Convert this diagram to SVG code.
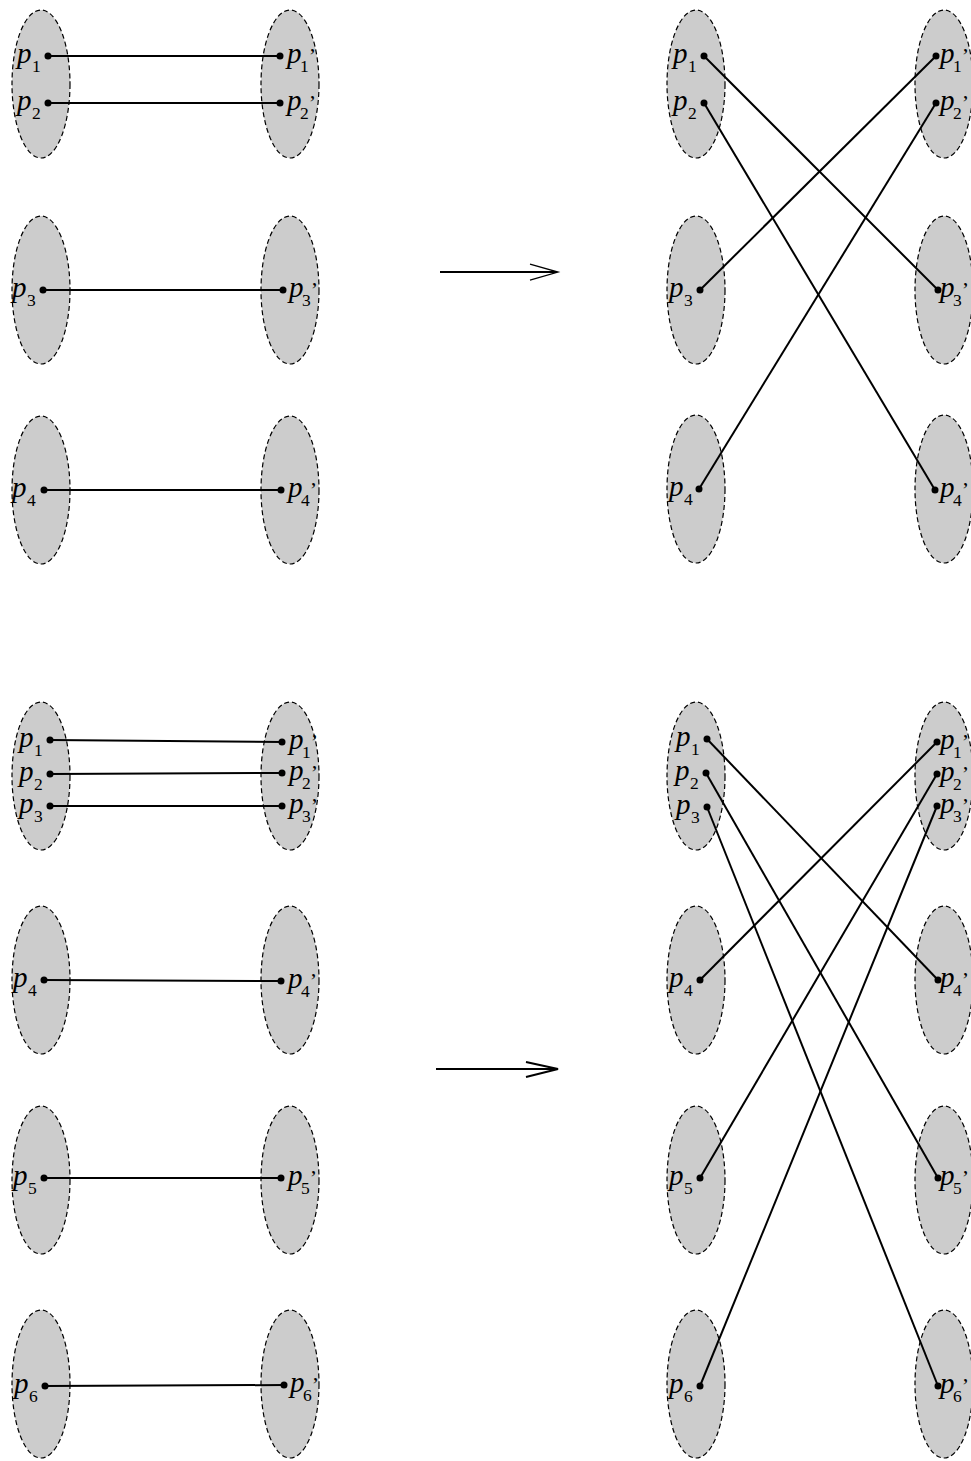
<svg xmlns="http://www.w3.org/2000/svg" width="971" height="1461" viewBox="0 0 971 1461">
<style>
.set{fill:#cccccc;stroke:#000;stroke-width:1.2;stroke-dasharray:5 3}
.ln{stroke:#000;stroke-width:2;fill:none}
.ah{stroke:#000;stroke-width:1.3;fill:none}
.dot{fill:#000}
.p{font-family:"Liberation Serif","Times New Roman",serif;font-style:italic;font-size:29px;fill:#000}
.s{font-style:normal;font-size:17.5px}
.pr{font-style:normal;font-size:22px}
</style>
<rect width="971" height="1461" fill="#fff"/>
<g id="sets">
<g id="tl-L1"><ellipse class="set" cx="41" cy="84" rx="29" ry="74"/></g>
<g id="tl-L3"><ellipse class="set" cx="41" cy="290" rx="29" ry="74"/></g>
<g id="tl-L4"><ellipse class="set" cx="41" cy="490" rx="29" ry="74"/></g>
<g id="tl-R1"><ellipse class="set" cx="290" cy="84" rx="29" ry="74"/></g>
<g id="tl-R3"><ellipse class="set" cx="290" cy="290" rx="29" ry="74"/></g>
<g id="tl-R4"><ellipse class="set" cx="290" cy="490" rx="29" ry="74"/></g>
<g id="tr-L1"><ellipse class="set" cx="696" cy="84" rx="29" ry="74"/></g>
<g id="tr-L3"><ellipse class="set" cx="696" cy="290" rx="29" ry="74"/></g>
<g id="tr-L4"><ellipse class="set" cx="696" cy="489" rx="29" ry="74"/></g>
<g id="tr-R1"><ellipse class="set" cx="944" cy="84" rx="29" ry="74"/></g>
<g id="tr-R3"><ellipse class="set" cx="944" cy="290" rx="29" ry="74"/></g>
<g id="tr-R4"><ellipse class="set" cx="944" cy="489" rx="29" ry="74"/></g>
<g id="bl-L1"><ellipse class="set" cx="41" cy="776" rx="29" ry="74"/></g>
<g id="bl-L4"><ellipse class="set" cx="41" cy="980" rx="29" ry="74"/></g>
<g id="bl-L5"><ellipse class="set" cx="41" cy="1180" rx="29" ry="74"/></g>
<g id="bl-L6"><ellipse class="set" cx="41" cy="1384" rx="29" ry="74"/></g>
<g id="bl-R1"><ellipse class="set" cx="290" cy="776" rx="29" ry="74"/></g>
<g id="bl-R4"><ellipse class="set" cx="290" cy="980" rx="29" ry="74"/></g>
<g id="bl-R5"><ellipse class="set" cx="290" cy="1180" rx="29" ry="74"/></g>
<g id="bl-R6"><ellipse class="set" cx="290" cy="1384" rx="29" ry="74"/></g>
<g id="br-L1"><ellipse class="set" cx="696" cy="776" rx="29" ry="74"/></g>
<g id="br-L4"><ellipse class="set" cx="696" cy="980" rx="29" ry="74"/></g>
<g id="br-L5"><ellipse class="set" cx="696" cy="1180" rx="29" ry="74"/></g>
<g id="br-L6"><ellipse class="set" cx="696" cy="1384" rx="29" ry="74"/></g>
<g id="br-R1"><ellipse class="set" cx="944" cy="776" rx="29" ry="74"/></g>
<g id="br-R4"><ellipse class="set" cx="944" cy="980" rx="29" ry="74"/></g>
<g id="br-R5"><ellipse class="set" cx="944" cy="1180" rx="29" ry="74"/></g>
<g id="br-R6"><ellipse class="set" cx="944" cy="1384" rx="29" ry="74"/></g>
</g>
<g id="connectors">
<line class="ln" x1="48" y1="56" x2="280" y2="56"/>
<line class="ln" x1="48" y1="103" x2="280" y2="103"/>
<line class="ln" x1="43" y1="290" x2="283" y2="290"/>
<line class="ln" x1="44" y1="490" x2="281" y2="490"/>
<line class="ln" x1="704" y1="56" x2="938" y2="290"/>
<line class="ln" x1="704" y1="103" x2="935" y2="490"/>
<line class="ln" x1="700" y1="290" x2="936" y2="56"/>
<line class="ln" x1="699" y1="489" x2="936" y2="103"/>
<line class="ln" x1="50" y1="740" x2="282" y2="742"/>
<line class="ln" x1="50" y1="774" x2="282" y2="773"/>
<line class="ln" x1="50" y1="806" x2="282" y2="806"/>
<line class="ln" x1="44" y1="980" x2="281" y2="981"/>
<line class="ln" x1="44" y1="1178" x2="281" y2="1178"/>
<line class="ln" x1="45" y1="1386" x2="284" y2="1385"/>
<line class="ln" x1="707" y1="739" x2="938" y2="980"/>
<line class="ln" x1="706" y1="773" x2="938" y2="1178"/>
<line class="ln" x1="707" y1="807" x2="938" y2="1386"/>
<line class="ln" x1="700" y1="980" x2="937" y2="742"/>
<line class="ln" x1="700" y1="1178" x2="937" y2="774"/>
<line class="ln" x1="700" y1="1386" x2="937" y2="806"/>
<g id="arrow-top"><line class="ln" x1="440" y1="272" x2="557" y2="272"/><path class="ah" d="M530,264 L558,272 L530,280"/></g>
<g id="arrow-bottom"><line class="ln" x1="436" y1="1069" x2="556" y2="1069"/><path class="ln" d="M526,1062 L558,1069 L526,1077"/></g>
</g>
<g id="points">
<circle class="dot" cx="48" cy="56" r="3.5"/><circle class="dot" cx="48" cy="103" r="3.5"/>
<circle class="dot" cx="43" cy="290" r="3.5"/><circle class="dot" cx="44" cy="490" r="3.5"/>
<circle class="dot" cx="280" cy="56" r="3.5"/><circle class="dot" cx="280" cy="103" r="3.5"/>
<circle class="dot" cx="283" cy="290" r="3.5"/><circle class="dot" cx="281" cy="490" r="3.5"/>
<circle class="dot" cx="704" cy="56" r="3.5"/><circle class="dot" cx="704" cy="103" r="3.5"/>
<circle class="dot" cx="700" cy="290" r="3.5"/><circle class="dot" cx="699" cy="489" r="3.5"/>
<circle class="dot" cx="936" cy="56" r="3.5"/><circle class="dot" cx="936" cy="103" r="3.5"/>
<circle class="dot" cx="938" cy="290" r="3.5"/><circle class="dot" cx="935" cy="490" r="3.5"/>
<circle class="dot" cx="50" cy="740" r="3.5"/><circle class="dot" cx="50" cy="774" r="3.5"/><circle class="dot" cx="50" cy="806" r="3.5"/>
<circle class="dot" cx="44" cy="980" r="3.5"/><circle class="dot" cx="44" cy="1178" r="3.5"/><circle class="dot" cx="45" cy="1386" r="3.5"/>
<circle class="dot" cx="282" cy="742" r="3.5"/><circle class="dot" cx="282" cy="773" r="3.5"/><circle class="dot" cx="282" cy="806" r="3.5"/>
<circle class="dot" cx="281" cy="981" r="3.5"/><circle class="dot" cx="281" cy="1178" r="3.5"/><circle class="dot" cx="284" cy="1385" r="3.5"/>
<circle class="dot" cx="707" cy="739" r="3.5"/><circle class="dot" cx="706" cy="773" r="3.5"/><circle class="dot" cx="707" cy="807" r="3.5"/>
<circle class="dot" cx="700" cy="980" r="3.5"/><circle class="dot" cx="700" cy="1178" r="3.5"/><circle class="dot" cx="700" cy="1386" r="3.5"/>
<circle class="dot" cx="937" cy="742" r="3.5"/><circle class="dot" cx="937" cy="774" r="3.5"/><circle class="dot" cx="937" cy="806" r="3.5"/>
<circle class="dot" cx="938" cy="980" r="3.5"/><circle class="dot" cx="938" cy="1178" r="3.5"/><circle class="dot" cx="938" cy="1386" r="3.5"/>
</g>
<g id="labels">
<text class="p" x="17" y="63">p<tspan class="s" x="32" dy="9">1</tspan></text>
<text class="p" x="17" y="110">p<tspan class="s" x="32" dy="9">2</tspan></text>
<text class="p" x="12" y="297">p<tspan class="s" x="27" dy="9">3</tspan></text>
<text class="p" x="12" y="497">p<tspan class="s" x="27" dy="9">4</tspan></text>
<text class="p" x="287" y="63">p<tspan class="s" x="300" dy="9">1</tspan><tspan class="pr" dy="-9">’</tspan></text>
<text class="p" x="287" y="110">p<tspan class="s" x="300" dy="9">2</tspan><tspan class="pr" dy="-9">’</tspan></text>
<text class="p" x="289" y="297">p<tspan class="s" x="302" dy="9">3</tspan><tspan class="pr" dy="-9">’</tspan></text>
<text class="p" x="288" y="497">p<tspan class="s" x="301" dy="9">4</tspan><tspan class="pr" dy="-9">’</tspan></text>
<text class="p" x="673" y="63">p<tspan class="s" x="688" dy="9">1</tspan></text>
<text class="p" x="673" y="110">p<tspan class="s" x="688" dy="9">2</tspan></text>
<text class="p" x="669" y="297">p<tspan class="s" x="684" dy="9">3</tspan></text>
<text class="p" x="669" y="496">p<tspan class="s" x="684" dy="9">4</tspan></text>
<text class="p" x="940" y="63">p<tspan class="s" x="953" dy="9">1</tspan><tspan class="pr" dy="-9">’</tspan></text>
<text class="p" x="940" y="110">p<tspan class="s" x="953" dy="9">2</tspan><tspan class="pr" dy="-9">’</tspan></text>
<text class="p" x="940" y="297">p<tspan class="s" x="953" dy="9">3</tspan><tspan class="pr" dy="-9">’</tspan></text>
<text class="p" x="940" y="497">p<tspan class="s" x="953" dy="9">4</tspan><tspan class="pr" dy="-9">’</tspan></text>
<text class="p" x="19" y="747">p<tspan class="s" x="34" dy="9">1</tspan></text>
<text class="p" x="19" y="781">p<tspan class="s" x="34" dy="9">2</tspan></text>
<text class="p" x="19" y="813">p<tspan class="s" x="34" dy="9">3</tspan></text>
<text class="p" x="13" y="987">p<tspan class="s" x="28" dy="9">4</tspan></text>
<text class="p" x="13" y="1185">p<tspan class="s" x="28" dy="9">5</tspan></text>
<text class="p" x="14" y="1393">p<tspan class="s" x="29" dy="9">6</tspan></text>
<text class="p" x="289" y="749">p<tspan class="s" x="302" dy="9">1</tspan><tspan class="pr" dy="-9">’</tspan></text>
<text class="p" x="289" y="780">p<tspan class="s" x="302" dy="9">2</tspan><tspan class="pr" dy="-9">’</tspan></text>
<text class="p" x="289" y="813">p<tspan class="s" x="302" dy="9">3</tspan><tspan class="pr" dy="-9">’</tspan></text>
<text class="p" x="288" y="988">p<tspan class="s" x="301" dy="9">4</tspan><tspan class="pr" dy="-9">’</tspan></text>
<text class="p" x="288" y="1185">p<tspan class="s" x="301" dy="9">5</tspan><tspan class="pr" dy="-9">’</tspan></text>
<text class="p" x="290" y="1392">p<tspan class="s" x="303" dy="9">6</tspan><tspan class="pr" dy="-9">’</tspan></text>
<text class="p" x="676" y="746">p<tspan class="s" x="691" dy="9">1</tspan></text>
<text class="p" x="675" y="780">p<tspan class="s" x="690" dy="9">2</tspan></text>
<text class="p" x="676" y="814">p<tspan class="s" x="691" dy="9">3</tspan></text>
<text class="p" x="669" y="987">p<tspan class="s" x="684" dy="9">4</tspan></text>
<text class="p" x="669" y="1185">p<tspan class="s" x="684" dy="9">5</tspan></text>
<text class="p" x="669" y="1393">p<tspan class="s" x="684" dy="9">6</tspan></text>
<text class="p" x="940" y="749">p<tspan class="s" x="953" dy="9">1</tspan><tspan class="pr" dy="-9">’</tspan></text>
<text class="p" x="940" y="781">p<tspan class="s" x="953" dy="9">2</tspan><tspan class="pr" dy="-9">’</tspan></text>
<text class="p" x="940" y="813">p<tspan class="s" x="953" dy="9">3</tspan><tspan class="pr" dy="-9">’</tspan></text>
<text class="p" x="940" y="987">p<tspan class="s" x="953" dy="9">4</tspan><tspan class="pr" dy="-9">’</tspan></text>
<text class="p" x="940" y="1185">p<tspan class="s" x="953" dy="9">5</tspan><tspan class="pr" dy="-9">’</tspan></text>
<text class="p" x="940" y="1393">p<tspan class="s" x="953" dy="9">6</tspan><tspan class="pr" dy="-9">’</tspan></text>
</g>
</svg>
